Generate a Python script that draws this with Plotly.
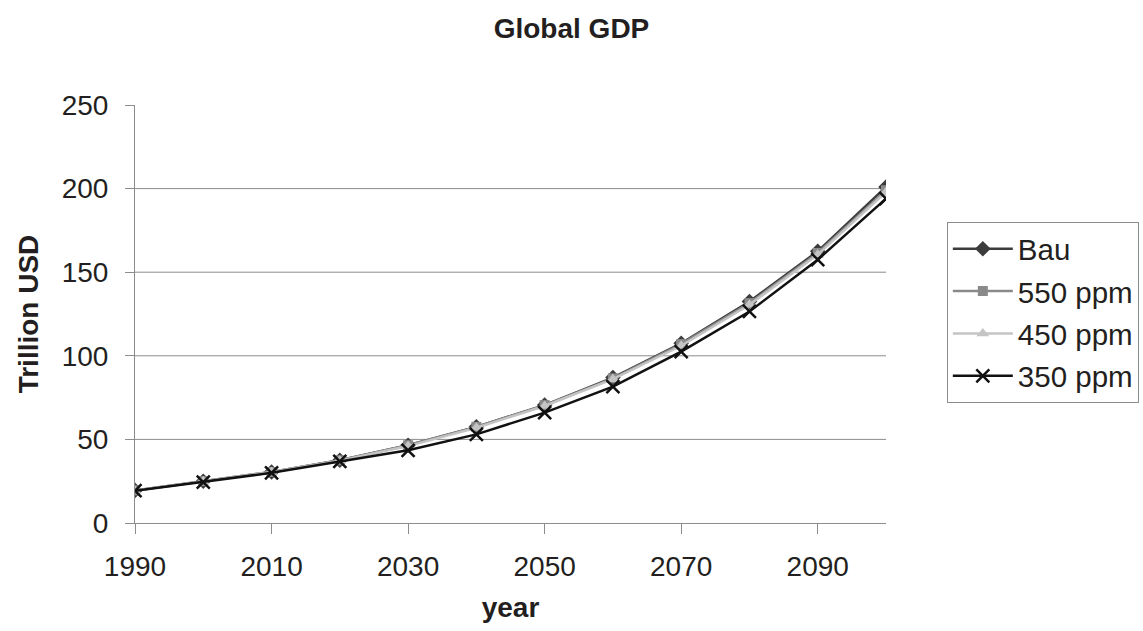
import plotly.graph_objects as go

years = [1990, 2000, 2010, 2020, 2030, 2040, 2050, 2060, 2070, 2080, 2090, 2100]
bau = [19.5, 25.0, 30.5, 37.5, 46.5, 57.5, 70.5, 87.0, 107.5, 132.5, 162.5, 201.0]
ppm550 = [19.5, 25.0, 30.5, 37.5, 46.5, 57.5, 70.5, 86.5, 107.0, 131.5, 161.5, 199.0]
ppm450 = [19.5, 25.0, 30.5, 37.3, 46.0, 57.0, 70.0, 86.0, 106.0, 130.5, 160.5, 198.0]
ppm350 = [19.3, 24.5, 30.0, 36.8, 43.5, 53.0, 66.0, 81.5, 102.5, 126.5, 157.5, 194.0]

x_ticks = [1990, 2010, 2030, 2050, 2070, 2090]
y_ticks = [0, 50, 100, 150, 200, 250]
grid_levels = [50, 100, 150, 200]

FONT = "Liberation Sans, Arial, sans-serif"
TEXT = "#231f20"
AXIS = "#8c8c8c"

series = [
    ("Bau", bau, "#3c3c3c", dict(symbol="diamond", size=12, color="#3c3c3c")),
    ("550 ppm", ppm550, "#8a8a8a", dict(symbol="square", size=10, color="#8a8a8a")),
    ("450 ppm", ppm450, "#c4c4c4", dict(symbol="triangle-up", size=11, color="#c4c4c4")),
    ("350 ppm", ppm350, "#111111", dict(symbol="x-thin", size=13, color="#111111",
                                         line=dict(width=2.5, color="#111111"))),
]

fig = go.Figure()
for name, vals, col, mk in series:
    fig.add_trace(go.Scatter(
        x=years, y=vals, name=name, mode="lines+markers",
        line=dict(color=col, width=2.5), marker=mk, legendgroup=name,
    ))

for lvl in grid_levels:
    fig.add_shape(type="line", xref="paper", x0=0, x1=1, yref="y", y0=lvl, y1=lvl,
                  line=dict(color=AXIS, width=1), layer="below")

fig.update_layout(
    width=1143, height=631,
    margin=dict(l=135, r=257, t=105, b=108, autoexpand=False),
    paper_bgcolor="white", plot_bgcolor="white",
    font=dict(family=FONT, size=28, color=TEXT),
    title=dict(text="<b>Global GDP</b>", x=0.5, xref="container", xanchor="center",
               y=1 - 28 / 631, yref="container", yanchor="middle",
               font=dict(size=28, family=FONT, color=TEXT)),
    showlegend=True,
    legend=dict(x=1.081, y=0.72, xanchor="left", yanchor="top",
                bordercolor=AXIS, borderwidth=1, bgcolor="white",
                font=dict(size=29.5, family=FONT, color=TEXT),
                tracegroupgap=1, itemwidth=60),
)

fig.update_xaxes(
    range=[1990, 2100], tickvals=x_ticks, ticks="outside", ticklen=10, tickcolor=AXIS,
    showline=True, linecolor=AXIS, linewidth=1, showgrid=False, zeroline=False,
    tickfont=dict(size=28), ticklabelstandoff=8,
    title=dict(text="<b>year</b>", font=dict(size=28), standoff=16),
)
fig.update_yaxes(
    range=[0, 250], tickvals=y_ticks, ticks="outside", ticklen=9, tickcolor=AXIS,
    showline=True, linecolor=AXIS, linewidth=1, showgrid=False, zeroline=False,
    tickfont=dict(size=28), ticklabelstandoff=11,
    title=dict(text="<b>Trillion USD</b>", font=dict(size=28), standoff=14),
)

fig.write_html("out.html")
